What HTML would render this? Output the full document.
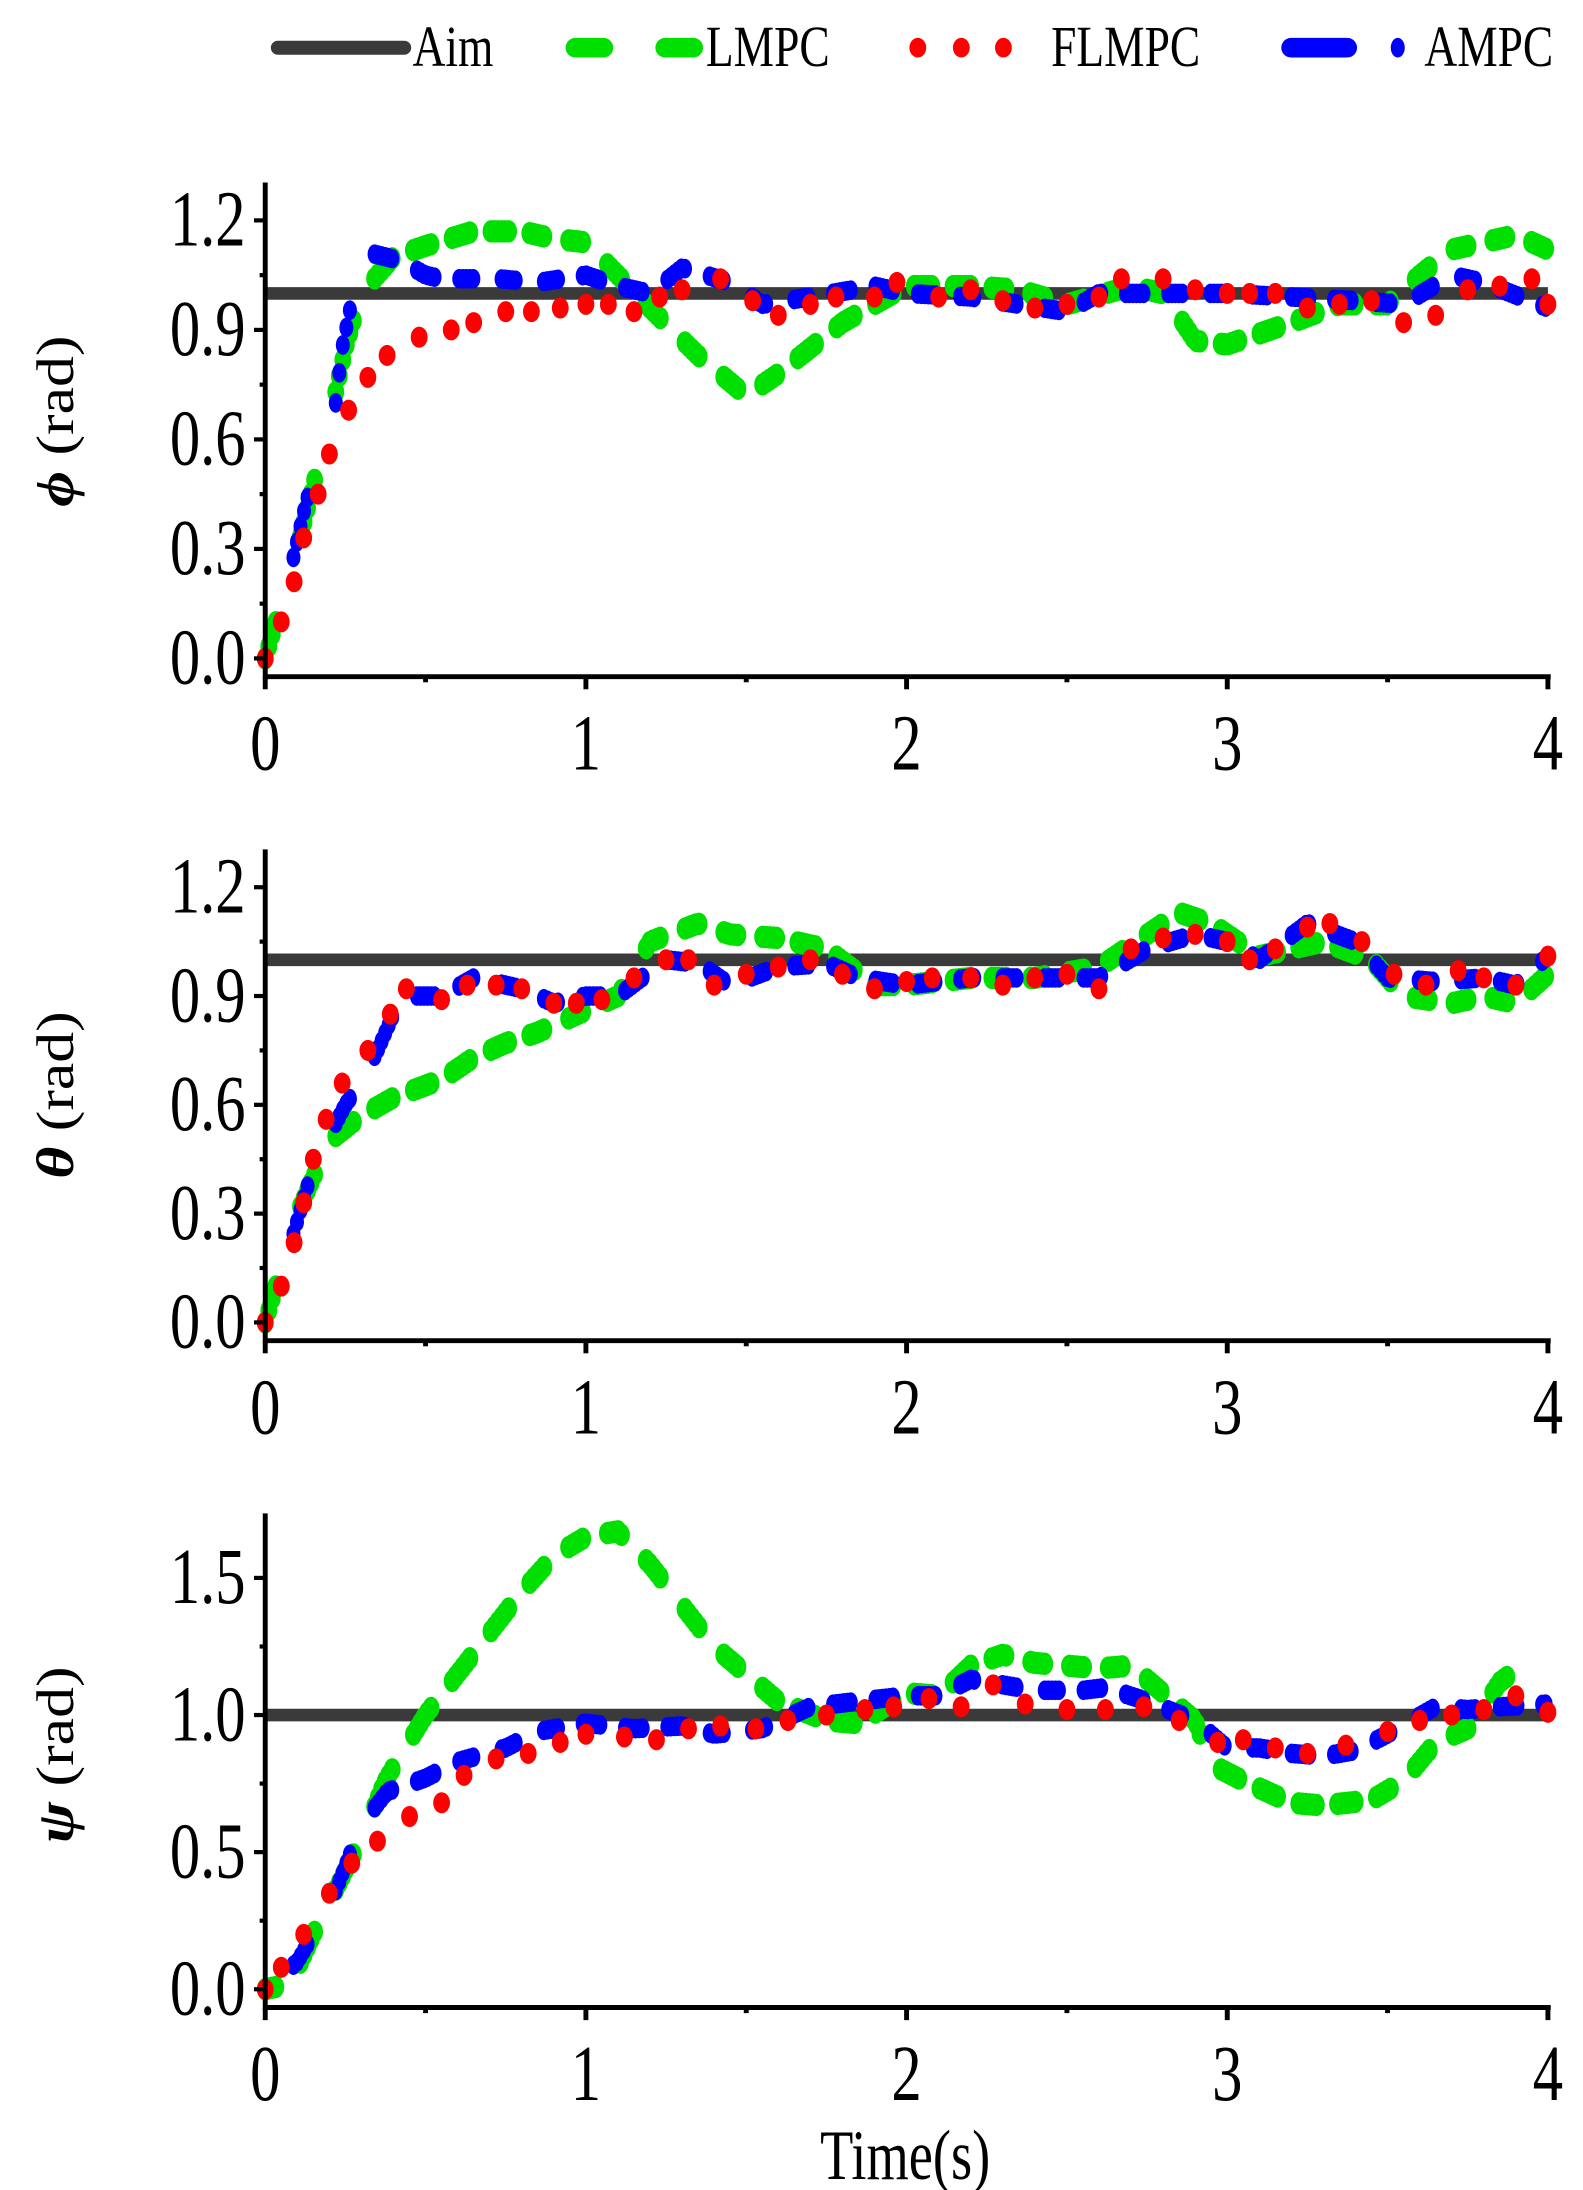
<!DOCTYPE html>
<html><head><meta charset="utf-8"><style>
html,body{margin:0;padding:0;background:#fff}
svg{display:block}
text{font-family:"Liberation Serif","Times New Roman",serif;fill:#000}
</style></head><body>
<svg id="s" width="1583" height="2190" viewBox="0 0 1128 1560" preserveAspectRatio="none" xmlns="http://www.w3.org/2000/svg">
<g id="legend">
<line x1="198" y1="34" x2="288" y2="34" stroke="#3a3a3a" stroke-width="10" stroke-linecap="round"/>
<text transform="translate(294,47) scale(0.9,1.15)" font-size="36">Aim</text>
<rect x="403" y="27" width="34" height="14" rx="7" fill="#00e000"/>
<rect x="467" y="27" width="34" height="14" rx="7" fill="#00e000"/>
<text transform="translate(503,47) scale(0.9,1.15)" font-size="36">LMPC</text>
<ellipse cx="654" cy="34" rx="6" ry="7" fill="#ff0000"/>
<ellipse cx="685" cy="34" rx="6" ry="7" fill="#ff0000"/>
<ellipse cx="715" cy="34" rx="6" ry="7" fill="#ff0000"/>
<text transform="translate(749,47) scale(0.9,1.15)" font-size="36">FLMPC</text>
<rect x="913" y="27" width="54" height="14" rx="7" fill="#0000ff"/>
<ellipse cx="996" cy="34" rx="5" ry="7" fill="#0000ff"/>
<text transform="translate(1015,47) scale(0.9,1.15)" font-size="36">AMPC</text>
</g>
<text transform="translate(645,1552) scale(0.88,1.15)" font-size="44" text-anchor="middle">Time(s)</text>
</svg>
<script>
const NS="http://www.w3.org/2000/svg",S=document.getElementById('s');
function el(t,a,p){const e=document.createElementNS(NS,t);for(const k in a)e.setAttribute(k,a[k]);(p||S).appendChild(e);return e;}
function interp(k,t){for(let i=0;i<k.length-1;i++){if(t>=k[i][0]&&t<=k[i+1][0]){const f=(t-k[i][0])/(k[i+1][0]-k[i][0]||1);return k[i][1]+f*(k[i+1][1]-k[i][1]);}}return k[k.length-1][1];}
const X0=189,X1=1103;
const panels=[
{top:130,bot:482,y0:469,ypu:78/0.3,ticks:[0,0.3,0.6,0.9,1.2],minor:0.15,lab:"ϕ",ly:300,
g:[[0,0],[0.1,0.3],[0.2,0.65],[0.25,0.85],[0.3,1.0],[0.4,1.1],[0.5,1.13],[0.65,1.17],[0.8,1.17],[0.9,1.15],[1.0,1.14],[1.1,1.05],[1.2,0.96],[1.35,0.83],[1.5,0.72],[1.6,0.78],[1.7,0.85],[1.8,0.92],[1.9,0.97],[2.0,1.02],[2.2,1.02],[2.35,1.01],[2.5,0.97],[2.7,1.02],[2.8,1.0],[2.9,0.87],[3.0,0.86],[3.2,0.92],[3.35,0.97],[3.5,0.97],[3.6,1.05],[3.7,1.12],[3.9,1.16],[4,1.12]],
b:[[0,0],[0.05,0.13],[0.12,0.4],[0.17,0.57],[0.22,0.7],[0.24,0.85],[0.27,0.98],[0.33,1.11],[0.42,1.09],[0.5,1.05],[0.55,1.04],[0.63,1.04],[0.73,1.04],[0.85,1.03],[1.0,1.05],[1.1,1.02],[1.2,1.0],[1.3,1.07],[1.45,1.03],[1.55,0.97],[1.7,0.99],[1.9,1.02],[2.0,1.0],[2.2,0.99],[2.5,0.95],[2.6,1.0],[2.8,1.0],[3.0,1.0],[3.2,0.99],[3.4,0.98],[3.55,0.97],[3.7,1.05],[3.8,1.03],[4.0,0.96]],
r:[[0,0],[.05,.1],[.09,.21],[.12,.33],[.165,.45],[.2,.56],[.26,.68],[.32,.77],[.38,.83],[.48,.88],[.58,.9],[.65,.92],[.75,.95],[.83,.95],[.92,.96],[1.0,.97],[1.07,.97],[1.15,.95],[1.23,.99],[1.3,1.01],[1.42,1.04],[1.52,.98],[1.6,.94],[1.7,.97],[1.78,.99],[1.9,.99],[1.97,1.03],[2.1,.99],[2.2,1.01],[2.3,.98],[2.4,.96],[2.5,.97],[2.6,.99],[2.67,1.04],[2.8,1.04],[2.9,1.01],[3.0,1.0],[3.07,1.0],[3.15,1.0],[3.25,.96],[3.35,.97],[3.45,.98],[3.55,.92],[3.65,.94],[3.75,1.01],[3.85,1.02],[3.95,1.04],[4.0,.97]]},
{top:605,bot:955,y0:942,ypu:(942-632)/1.2,ticks:[0,0.3,0.6,0.9,1.2],minor:0.15,lab:"θ",ly:780,
g:[[0,0],[0.1,0.3],[0.2,0.5],[0.3,0.57],[0.4,0.62],[0.55,0.67],[0.65,0.73],[0.75,0.77],[0.85,0.8],[0.95,0.84],[1.1,0.9],[1.2,1.05],[1.35,1.1],[1.45,1.07],[1.6,1.06],[1.75,1.03],[1.9,0.93],[2.0,0.93],[2.2,0.95],[2.4,0.95],[2.6,0.98],[2.7,1.04],[2.85,1.13],[2.95,1.1],[3.1,1.01],[3.3,1.05],[3.45,1.0],[3.55,0.9],[3.7,0.88],[3.8,0.9],[3.9,0.88],[4,0.96]],
b:[[0,0],[0.05,0.13],[0.15,0.43],[0.25,0.6],[0.3,0.66],[0.35,0.75],[0.4,0.85],[0.45,0.9],[0.55,0.9],[0.65,0.95],[0.8,0.92],[0.9,0.88],[1.0,0.9],[1.1,0.9],[1.25,1.0],[1.35,0.99],[1.45,0.93],[1.6,0.98],[1.75,0.99],[1.85,0.95],[2.0,0.93],[2.2,0.95],[2.5,0.95],[2.6,0.95],[2.75,1.03],[2.9,1.07],[3.0,1.05],[3.1,1.0],[3.25,1.1],[3.4,1.05],[3.5,0.95],[3.65,0.94],[3.8,0.95],[3.9,0.93],[4,1.01]],
r:[[0,0],[.05,.1],[.09,.22],[.12,.33],[.15,.45],[.19,.56],[.24,.66],[.32,.75],[.39,.85],[.44,.92],[.55,.89],[.63,.93],[.72,.93],[.8,.92],[.9,.88],[.97,.88],[1.05,.89],[1.15,.95],[1.25,1.0],[1.32,1.0],[1.4,.93],[1.5,.96],[1.6,.98],[1.7,1.0],[1.8,.96],[1.9,.92],[2.0,.94],[2.08,.95],[2.2,.95],[2.3,.93],[2.4,.95],[2.5,.96],[2.6,.92],[2.7,1.03],[2.8,1.06],[2.9,1.07],[3.0,1.05],[3.07,1.0],[3.15,1.03],[3.25,1.09],[3.32,1.1],[3.42,1.05],[3.52,.96],[3.62,.93],[3.72,.97],[3.8,.95],[3.9,.93],[4,1.01]]},
{top:1078,bot:1430,y0:1417,ypu:(1417-1124)/1.5,ticks:[0,0.5,1.0,1.5],minor:0.25,lab:"ψ",ly:1250,
g:[[0,0],[0.08,0.02],[0.15,0.2],[0.3,0.55],[0.37,0.75],[0.42,0.85],[0.5,1.0],[0.6,1.15],[0.7,1.3],[0.8,1.45],[0.9,1.58],[1.0,1.65],[1.1,1.67],[1.2,1.55],[1.3,1.4],[1.4,1.25],[1.5,1.15],[1.6,1.05],[1.75,0.98],[1.85,0.97],[2.0,1.08],[2.1,1.07],[2.2,1.18],[2.3,1.22],[2.4,1.19],[2.5,1.18],[2.6,1.17],[2.7,1.18],[2.8,1.08],[2.9,0.98],[2.95,0.82],[3.05,0.76],[3.2,0.68],[3.3,0.67],[3.45,0.69],[3.55,0.76],[3.65,0.9],[3.75,0.95],[3.85,1.12],[3.92,1.18]],
b:[[0,0],[0.1,0.1],[0.2,0.3],[0.25,0.45],[0.3,0.6],[0.38,0.72],[0.5,0.77],[0.6,0.83],[0.75,0.88],[0.85,0.94],[1.0,0.97],[1.15,0.95],[1.3,0.96],[1.4,0.93],[1.55,0.95],[1.7,1.03],[1.85,1.05],[2.0,1.07],[2.1,1.07],[2.2,1.13],[2.4,1.09],[2.55,1.09],[2.62,1.1],[2.75,1.05],[2.9,0.98],[3.0,0.88],[3.1,0.88],[3.2,0.86],[3.3,0.85],[3.4,0.87],[3.5,0.93],[3.65,1.03],[3.75,1.02],[3.85,1.03],[4,1.04]],
r:[[0,0],[.05,.08],[.12,.2],[.2,.35],[.27,.46],[.35,.54],[.45,.63],[.55,.68],[.62,.78],[.72,.84],[.82,.86],[.92,.9],[1.0,.93],[1.12,.92],[1.22,.91],[1.32,.95],[1.42,.96],[1.53,.95],[1.63,.98],[1.75,1.0],[1.87,1.02],[1.96,1.03],[2.07,1.06],[2.17,1.03],[2.27,1.11],[2.37,1.04],[2.5,1.02],[2.62,1.02],[2.74,1.03],[2.85,.98],[2.97,.9],[3.05,.91],[3.15,.88],[3.25,.86],[3.37,.89],[3.5,.94],[3.6,.98],[3.7,1.0],[3.8,1.02],[3.9,1.07],[4,1.01]]}
];
const xs=t=>X0+t*(X1-X0)/4;
panels.forEach((p,pi)=>{
 const ys=v=>p.y0-v*p.ypu;
 el('line',{x1:X0,y1:ys(1),x2:X1,y2:ys(1),stroke:'#3a3a3a','stroke-width':9});
 for(let t=0;t<=4.0;t+=0.011){const ph=(t+0.02)%0.12; if(ph<0.06 && t<=p.g[p.g.length-1][0]) el('ellipse',{cx:xs(t),cy:ys(interp(p.g,t)),rx:6,ry:8,fill:'#00e000'});}
 for(let t=0;t<=4.0;t+=0.011){const ph=(t+0.05)%0.13; if(ph<0.06) el('ellipse',{cx:xs(t),cy:ys(interp(p.b,t)),rx:5,ry:7,fill:'#0000ff'});}
 p.r.forEach(d=>el('ellipse',{cx:xs(d[0]),cy:ys(d[1]),rx:6,ry:7.5,fill:'#ff0000'}));
 el('line',{x1:X0,y1:p.top,x2:X0,y2:p.bot+2,stroke:'#000','stroke-width':3.5});
 el('line',{x1:X0-1.5,y1:p.bot,x2:X1+2,y2:p.bot,stroke:'#000','stroke-width':3.5});
 for(let i=0;i<=8;i++){const x=xs(i*0.5);el('line',{x1:x,y1:p.bot,x2:x,y2:p.bot+(i%2?4:9),stroke:'#000','stroke-width':3.5});}
 for(let i=0;i<=4;i++){el('text',{transform:`translate(${xs(i)},${p.bot+66}) scale(0.9,1.18)`,'font-size':48,'text-anchor':'middle'}).textContent=i;}
 const maxv=p.ticks[p.ticks.length-1]+p.minor;
 for(let v=0;v<=maxv+1e-6;v+=p.minor){const y=ys(v);if(y<p.top)break;const maj=p.ticks.some(q=>Math.abs(q-v)<1e-6);el('line',{x1:X0-(maj?8:4),y1:y,x2:X0,y2:y,stroke:'#000','stroke-width':3});}
 p.ticks.forEach(v=>{el('text',{transform:`translate(${X0-14},${ys(v)+18}) scale(0.9,1.18)`,'font-size':48,'text-anchor':'end'}).textContent=v.toFixed(1);});
 const g=el('g',{transform:`translate(52,${p.ly}) rotate(-90) scale(1.1,0.95)`});
 const tx=el('text',{x:0,y:0,'font-size':40,'text-anchor':'middle'},g);
 const a=el('tspan',{'font-style':'italic','font-weight':'bold'},tx);a.textContent=p.lab;
 const b=el('tspan',{},tx);b.textContent=" (rad)";
});
</script>
</body></html>
